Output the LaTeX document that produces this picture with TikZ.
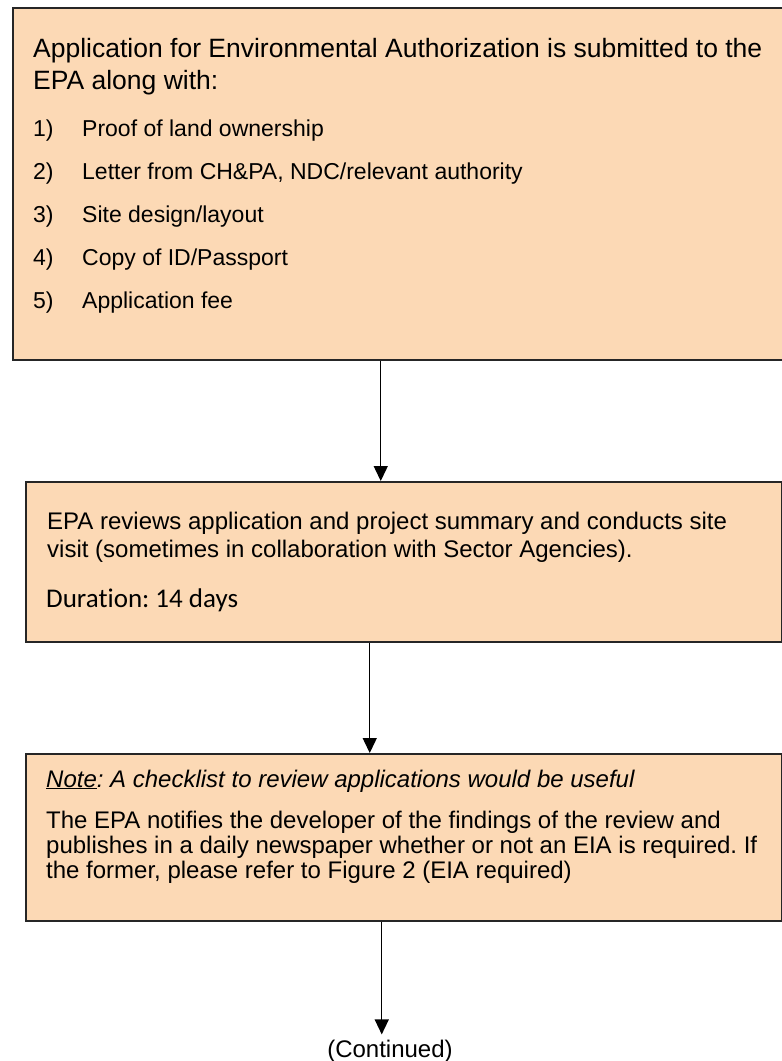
\documentclass[tikz,border=0pt]{standalone}
\usepackage{fontspec}
\setmainfont{Liberation Sans}
\newfontfamily\calibri[Ligatures=NoCommon]{Carlito}
\usepackage{tikz}
\usetikzlibrary{arrows.meta,positioning}
\definecolor{peach}{RGB}{252,217,181}
\frenchspacing

\begin{document}
\begin{tikzpicture}[x=1pt, y=-1pt,
  box/.style={draw=black!85, line width=1.5pt, fill=peach, anchor=north west, inner sep=0pt},
  txt/.style={anchor=base west, inner sep=0pt, align=left},
  arr/.style={-{Triangle[length=15pt, width=14pt]}, line width=1.4pt}]
\useasboundingbox (0,0) rectangle (782,1061);
% boxes
\node[box, minimum width=772pt, minimum height=352pt] (apply) at (12,7) {};
\node[box, minimum width=756pt, minimum height=160pt] (review) at (25,481) {};
\node[box, minimum width=756pt, minimum height=167pt] (notify) at (25,753) {};
% first box (base = last line)
\node[txt, font=\fontsize{26.5}{32}\selectfont] (head) at (33,89)
  {Application for Environmental Authorization is submitted to the\\EPA along with:};
\foreach \t [count=\i] in {Proof of land ownership, {Letter from CH\&PA, NDC/relevant authority},
    Site design/layout, Copy of ID/Passport, Application fee} {
  \node[txt, font=\fontsize{23}{27}\selectfont] (num\i) at (33,{136+(\i-1)*43}) {\i)};
  \node[txt, font=\fontsize{23}{27}\selectfont] (item\i) at (82,{136+(\i-1)*43}) {\t};
}
% second box
\node[txt, font=\fontsize{24}{28}\selectfont] (rtext) at (47,557)
  {EPA reviews application and project summary and conducts site\\visit (sometimes in collaboration with Sector Agencies).};
\node[txt, font=\calibri\fontsize{27}{32}\selectfont] (days) at (46,607) {Duration: 14 days};
% third box
\node[txt, font=\itshape\fontsize{24}{28}\selectfont] (note) at (46,787)
  {\underline{Note}: A checklist to review applications would be useful};
\node[txt, font=\fontsize{24}{25}\selectfont] (ntext) at (46,878)
  {The EPA notifies the developer of the findings of the review and\\publishes in a daily newspaper whether or not an EIA is required. If\\the former, please refer to Figure 2 (EIA required)};
\node[font=\fontsize{24}{28}\selectfont, anchor=base, inner sep=5pt] (cont) at (390,1057) {(Continued)};
% arrows
\draw[arr] ([xshift=-18pt]apply.south) -- ([xshift=-18pt]apply.south |- review.north);
\draw[arr] ([xshift=-34pt]review.south) -- ([xshift=-34pt]review.south |- notify.north);
\draw[arr] ([xshift=-22pt]notify.south) -- ([xshift=-22pt]notify.south |- cont.north);
\end{tikzpicture}
\end{document}
